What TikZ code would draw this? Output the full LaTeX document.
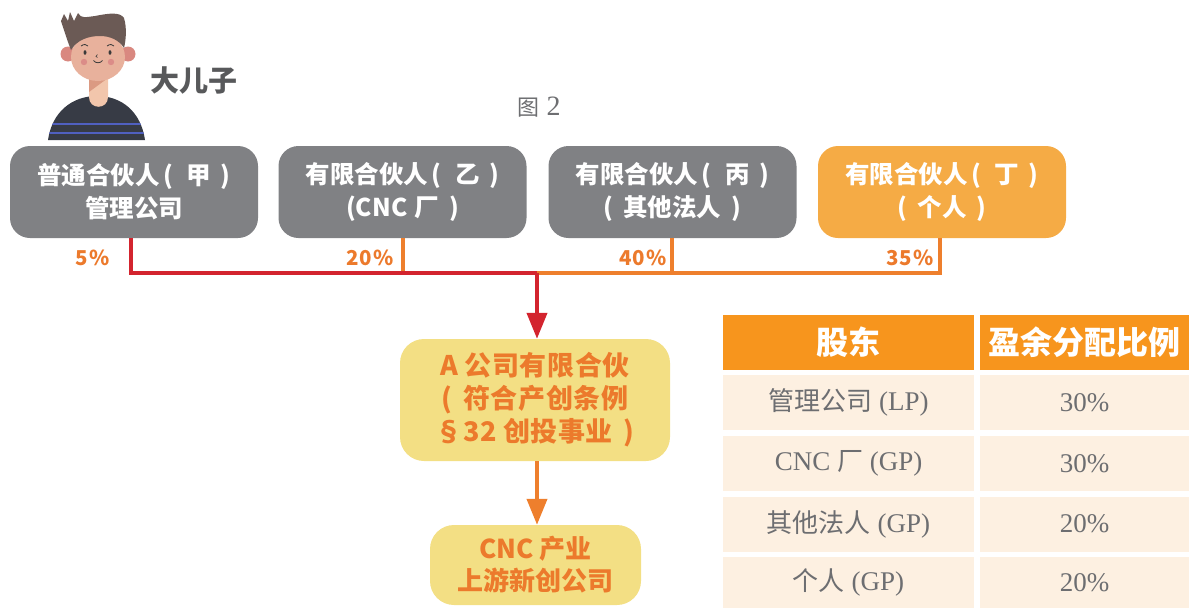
\documentclass[tikz,border=0pt]{standalone}
\usepackage{fontspec}
\usetikzlibrary{arrows.meta}
\newfontfamily\cjk{Noto Sans CJK SC}
\newfontfamily\tabserif{Liberation Serif}
\newcommand\tabzh[1]{{\cjk\fontsize{26pt}{30pt}\selectfont #1}}
% spaced half-width brackets used in the box labels
\newcommand\opar{\hspace{0.15em}(\hspace{0.55em}}
\newcommand\oparx{(\hspace{0.4em}}
\newcommand\cpar{\hspace{0.4em})}

\definecolor{boxgray}{HTML}{808184}
\definecolor{boxorange}{HTML}{F5AB45}
\definecolor{linered}{HTML}{D3242E}
\definecolor{lineorange}{HTML}{EE7F2D}
\definecolor{boxyellow}{HTML}{F3DF84}
\definecolor{txtorange}{HTML}{EC7A2C}
\definecolor{headorange}{HTML}{F7951D}
\definecolor{rowcream}{HTML}{FDF0E1}
\definecolor{txtgray}{HTML}{6D6E71}
\definecolor{titlegray}{HTML}{58595B}
\definecolor{shirt}{HTML}{373B45}
\definecolor{stripe}{HTML}{5060C0}
\definecolor{skin}{HTML}{E8B19C}
\definecolor{skinlight}{HTML}{F2C6AC}
\definecolor{skindark}{HTML}{DB9A82}
\definecolor{ear}{HTML}{D98880}
\definecolor{cheek}{HTML}{DB8C88}
\definecolor{hair}{HTML}{6B5A55}
\definecolor{ink}{HTML}{3A3A3A}

\tikzset{
  partner/.style={rounded corners=20pt, minimum width=248pt, minimum height=92pt,
    align=center, text=white, inner sep=0pt,
    font=\cjk\bfseries\fontsize{24.5pt}{33pt}\selectfont},
  firm/.style={rounded corners=24pt, fill=boxyellow, align=center, text=txtorange,
    inner sep=0pt, font=\cjk\bfseries\fontsize{27pt}{33pt}\selectfont\addfontfeature{LetterSpace=2}},
  pct/.style={text=txtorange, anchor=east, inner sep=0pt,
    font=\cjk\bfseries\fontsize{20.5pt}{22pt}\selectfont\addfontfeature{LetterSpace=6}},
  redline/.style={draw=linered, line width=4pt},
  orangeline/.style={draw=lineorange, line width=4pt},
  tip/.style={-{Triangle[width=20pt,length=26pt]}},
  headcell/.style={fill=headorange, text=white, inner sep=0pt, minimum height=55pt,
    font=\cjk\bfseries\fontsize{32pt}{34pt}\selectfont},
  bodycell/.style={fill=rowcream, text=txtgray, inner sep=0pt, minimum height=55pt,
    font=\tabserif\fontsize{27pt}{30pt}\selectfont},
  colA/.style={minimum width=251pt},
  colB/.style={minimum width=209pt},
}

\begin{document}
\begin{tikzpicture}[x=1pt,y=-1pt]
\useasboundingbox (0,0) rectangle (1189,608);

% --- portrait ---
\begin{scope}
  \fill[shirt] (48,140) .. controls (52,112) and (72,96) .. (97,96)
                        .. controls (122,96) and (141,112) .. (145,140) -- cycle;
  \clip (48,140) .. controls (52,112) and (72,96) .. (97,96)
                 .. controls (122,96) and (141,112) .. (145,140) -- cycle;
  \draw[stripe, line width=1.6pt] (40,124) -- (150,124) (40,133) -- (150,133);
\end{scope}
\fill[skinlight] (89,70) -- (89,97) .. controls (89,110) and (108,110) .. (108,97) -- (108,70) -- cycle;
\fill[skindark] (89,70) -- (108,70) -- (108,78) -- (89,92) -- cycle;
\fill[ear] (68,54) circle (7.5);
\fill[ear] (128,54) circle (7.5);
\fill[skin] (98,57) ellipse (27 and 24);
\fill[hair] (71,50) .. controls (67,40) and (64,30) .. (61,21) -- (64,14) -- (68,21)
   -- (70,12) -- (74,21) -- (78,13) .. controls (81,19) and (86,17) .. (95,16)
   .. controls (110,13) and (120,12) .. (124,18) .. controls (127,28) and (126,40) .. (124,48)
   .. controls (119,40) and (110,36) .. (100,36) .. controls (88,36) and (77,40) .. (71,50) -- cycle;
\draw[ink, line width=0.8pt] (81,46) .. controls (84,44) and (86,44) .. (88,46);
\draw[ink, line width=0.8pt] (107,46) .. controls (110,44) and (112,44) .. (114,46);
\fill[ink] (85,52.5) ellipse (1.5 and 2.3);
\fill[ink] (110,52.5) ellipse (1.5 and 2.3);
\draw[ink, line width=0.6pt] (97.5,54.5) .. controls (95.5,55.5) and (95.5,57.5) .. (97.5,57.5);
\draw[ink, line width=0.8pt] (93.5,60.5) .. controls (95.5,63.5) and (100.5,63.5) .. (102.5,60.5);
\fill[cheek] (84,62) circle (3.2);
\fill[cheek] (111,62) circle (3.2);

\node[text=titlegray, inner sep=0pt, font=\cjk\bfseries\fontsize{29pt}{32pt}\selectfont] (son) at (194,80) {大儿子};
\node[text=txtgray, inner sep=0pt] (fig) at (539,107)
  {{\cjk\fontsize{22pt}{26pt}\selectfont 图}\hspace{7pt}{\tabserif\fontsize{28pt}{30pt}\selectfont 2}};

% --- partners ---
\node[partner, fill=boxgray]   (p1) at (134,192)   {普通合伙人\opar 甲\cpar\\管理公司};
\node[partner, fill=boxgray]   (p2) at (402.5,192) {有限合伙人\opar 乙\cpar\\(CNC\hspace{0.3em}厂\cpar};
\node[partner, fill=boxgray]   (p3) at (672.5,192) {有限合伙人\opar 丙\cpar\\\oparx 其他法人\cpar};
\node[partner, fill=boxorange] (p4) at (942,192)   {有限合伙人\opar 丁\cpar\\\oparx 个人\cpar};

% --- fund and target ---
\node[firm, minimum width=270pt, minimum height=122pt] (fund) at (535,400)
  {A 公司有限合伙\\\oparx 符合产创条例\\§32 创投事业\cpar};
\node[firm, minimum width=211pt, minimum height=80pt,
      font=\cjk\bfseries\fontsize{26pt}{32pt}\selectfont] (target) at (535.5,565)
  {CNC 产业\\上游新创公司};

\coordinate (hub) at (537,273);

% --- shareholdings ---
\draw[orangeline] (p4.south -| 940,0) |- (hub);
\draw[orangeline] (p2.south -| 403,0) -- (403,273);
\draw[orangeline] (p3.south -| 672,0) -- (672,273);
\draw[redline] (p1.south -| 131,0) |- (hub);
\draw[redline, tip] (hub) -- (fund.north -| hub);
\draw[orangeline, tip] (fund.south -| hub) -- (target.north -| hub);

\node[pct] (l1) at (110,258) {5\%};
\node[pct] (l2) at (394,258) {20\%};
\node[pct] (l3) at (667,258) {40\%};
\node[pct] (l4) at (934,258) {35\%};

% --- profit split table ---
\node[headcell, colA] (h1) at (848.5,342.5) {股东};
\node[headcell, colB] (h2) at (1084.5,342.5) {盈余分配比例};
\node[bodycell, colA] (r1a) at (848.5,402.5) {\tabzh{管理公司} (LP)};
\node[bodycell, colB] (r1b) at (1084.5,402.5) {30\%};
\node[bodycell, colA] (r2a) at (848.5,463.5) {CNC \tabzh{厂} (GP)};
\node[bodycell, colB] (r2b) at (1084.5,463.5) {30\%};
\node[bodycell, colA] (r3a) at (848.5,524) {\tabzh{其他法人} (GP)};
\node[bodycell, colB] (r3b) at (1084.5,524) {20\%};
\node[bodycell, colA, minimum height=51pt] (r4a) at (848.5,582.5) {\tabzh{个人} (GP)};
\node[bodycell, colB, minimum height=51pt] (r4b) at (1084.5,582.5) {20\%};
\end{tikzpicture}
\end{document}
